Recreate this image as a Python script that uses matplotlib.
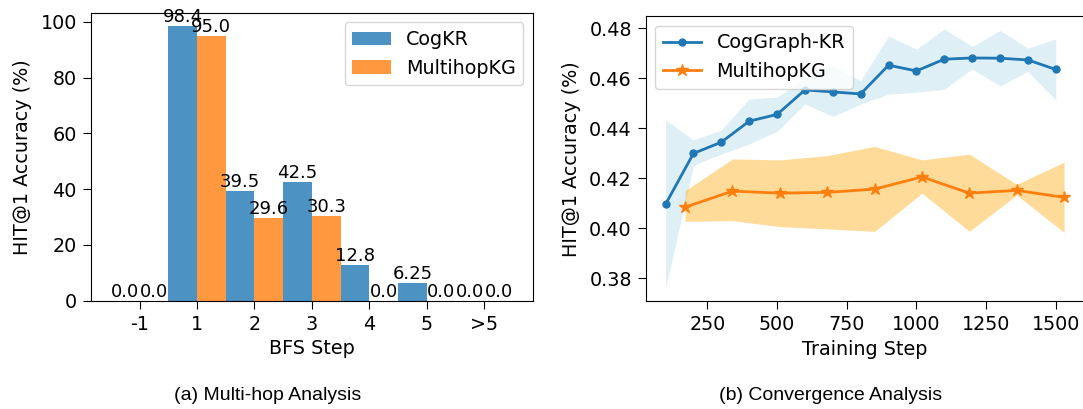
import numpy as np
import matplotlib
matplotlib.use("Agg")
import matplotlib.pyplot as plt

# left panel: accuracy per BFS step
steps = ["-1", "1", "2", "3", "4", "5", ">5"]
cogkr = [0.0, 98.4, 39.5, 42.5, 12.8, 6.25, 0.0]
multihop = [0.0, 95.0, 29.6, 30.3, 0.0, 0.0, 0.0]

# right panel: convergence curves with bands
cog_x = [100, 200, 300, 400, 500, 600, 700, 800, 900, 1000, 1100, 1200, 1300, 1400, 1500]
cog_y = [0.4096, 0.4299, 0.4344, 0.4428, 0.4455, 0.4553, 0.4545, 0.4537, 0.4652,
         0.4629, 0.4676, 0.4681, 0.4680, 0.4673, 0.4635]
cog_hi = [0.4433, 0.4353, 0.4393, 0.4517, 0.4524, 0.4600, 0.4650, 0.4590, 0.4769,
          0.4716, 0.4797, 0.4727, 0.4791, 0.4720, 0.4757]
cog_lo = [0.3759, 0.4251, 0.4297, 0.4337, 0.4387, 0.4497, 0.4447, 0.4497, 0.4536,
          0.4544, 0.4556, 0.4637, 0.4569, 0.4627, 0.4513]

mh_x = [170, 340, 510, 680, 850, 1020, 1190, 1360, 1530]
mh_y = [0.4084, 0.4148, 0.4140, 0.4143, 0.4156, 0.4205, 0.4140, 0.4151, 0.4123]
mh_hi = [0.4150, 0.4277, 0.4273, 0.4290, 0.4327, 0.4273, 0.4296, 0.4175, 0.4264]
mh_lo = [0.4027, 0.4030, 0.4006, 0.3997, 0.3987, 0.4140, 0.3987, 0.4133, 0.3983]

W, H = 1083, 409
fig = plt.figure(figsize=(W / 100, H / 100), dpi=100)


def box(x0, y0, x1, y1):
    return [x0 / W, 1 - y1 / H, (x1 - x0) / W, (y1 - y0) / H]


ax1 = fig.add_axes(box(90.7, 12.7, 533, 300.7))
ax2 = fig.add_axes(box(645.7, 16, 1084, 301.3))

fs = 13.8
pos = np.arange(len(steps))
bw = 0.5
ax1.bar(pos - bw / 2, cogkr, bw, color="tab:blue", alpha=0.8, label="CogKR")
ax1.bar(pos + bw / 2, multihop, bw, color="tab:orange", alpha=0.8, label="MultihopKG")
for p, a, b in zip(pos, cogkr, multihop):
    ax1.text(p - bw / 2, a, str(a), ha="center", va="bottom", fontsize=13)
    ax1.text(p + bw / 2, b, str(b), ha="center", va="bottom", fontsize=13)
ax1.set_xticks(pos)
ax1.set_xticklabels(steps)
ax1.set_xlabel("BFS Step", fontsize=fs)
ax1.set_ylabel("HIT@1 Accuracy (%)", fontsize=fs, labelpad=6)
ax1.tick_params(labelsize=fs, length=6, pad=4)
ax1.legend(loc="upper right", fontsize=fs)

ax2.fill_between(cog_x, cog_lo, cog_hi, color="lightblue", alpha=0.4, linewidth=0)
ax2.fill_between(mh_x, mh_lo, mh_hi, color="orange", alpha=0.4, linewidth=0)
ax2.plot(cog_x, cog_y, color="tab:blue", marker="o", markersize=5, linewidth=2,
         label="CogGraph-KR")
ax2.plot(mh_x, mh_y, color="tab:orange", marker="*", markersize=9, linewidth=2,
         label="MultihopKG")
ax2.set_xticks([250, 500, 750, 1000, 1250, 1500])
ax2.set_yticks([0.38, 0.40, 0.42, 0.44, 0.46, 0.48])
ax2.set_xlabel("Training Step", fontsize=fs)
ax2.set_ylabel("HIT@1 Accuracy (%)", fontsize=fs, labelpad=6)
ax2.tick_params(labelsize=fs, length=6, pad=4)
ax2.legend(loc="upper left", fontsize=fs)

fig.text(268 / W, 1 - 396 / H, "(a) Multi-hop Analysis", ha="center", va="center",
         fontsize=14, family="Liberation Sans")
fig.text(831 / W, 1 - 396 / H, "(b) Convergence Analysis", ha="center", va="center",
         fontsize=14, family="Liberation Sans")

fig.savefig("out.png", dpi=100)
